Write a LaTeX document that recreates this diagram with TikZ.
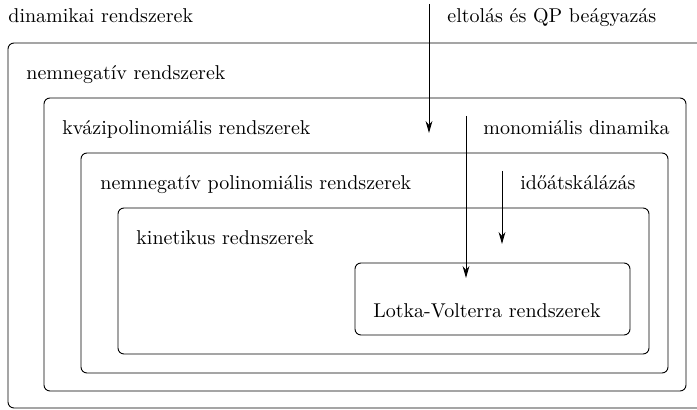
\documentclass[tikz,border=0pt]{standalone}
\usetikzlibrary{arrows.meta}
\begin{document}
\begin{tikzpicture}[x=0.5pt,y=-0.5pt,
  box/.style={draw, line width=0.45pt, rounded corners=3pt},
  lbl/.style={anchor=base west, inner sep=0pt, font=\fontsize{10}{12}\selectfont},
  arr/.style={-{Stealth[length=6pt,width=3.4pt]}, line width=0.45pt}]
\useasboundingbox (0,0) rectangle (697,410);
\clip (0,0) rectangle (697,410);
% boxes
\draw[box] (8,43) rectangle (730,408);
\draw[box] (44,98) rectangle (686,391);
\draw[box] (81,153) rectangle (668,373);
\draw[box] (118,208) rectangle (649,354);
\draw[box] (355,263) rectangle (630,335);
% labels
\node[lbl] (t0) at (8,23) {dinamikai rendszerek};
\node[lbl] (t1) at (26,80) {nemnegatív rendszerek};
\node[lbl] (t2) at (62,135) {kvázipolinomiális rendszerek};
\node[lbl] (t3) at (100,190) {nemnegatív polinomiális rendszerek};
\node[lbl] (t4) at (136,245) {kinetikus rednszerek};
\node[lbl] (t5) at (373,318) {Lotka-Volterra rendszerek};
\node[lbl] (l1) at (447,23) {eltolás és QP beágyazás};
\node[lbl] (l2) at (483,135) {monomiális dinamika};
\node[lbl] (l3) at (520,190) {időátskálázás};
% arrows
\coordinate (a1s) at (429,4);
\coordinate (a1e) at (429,133);
\coordinate (a2s) at (466,116);
\coordinate (a2e) at (466,278);
\coordinate (a3s) at (502,171);
\coordinate (a3e) at (502,244);
\draw[arr] (a1s) -- (a1e);
\draw[arr] (a2s) -- (a2e);
\draw[arr] (a3s) -- (a3e);
\end{tikzpicture}
\end{document}
